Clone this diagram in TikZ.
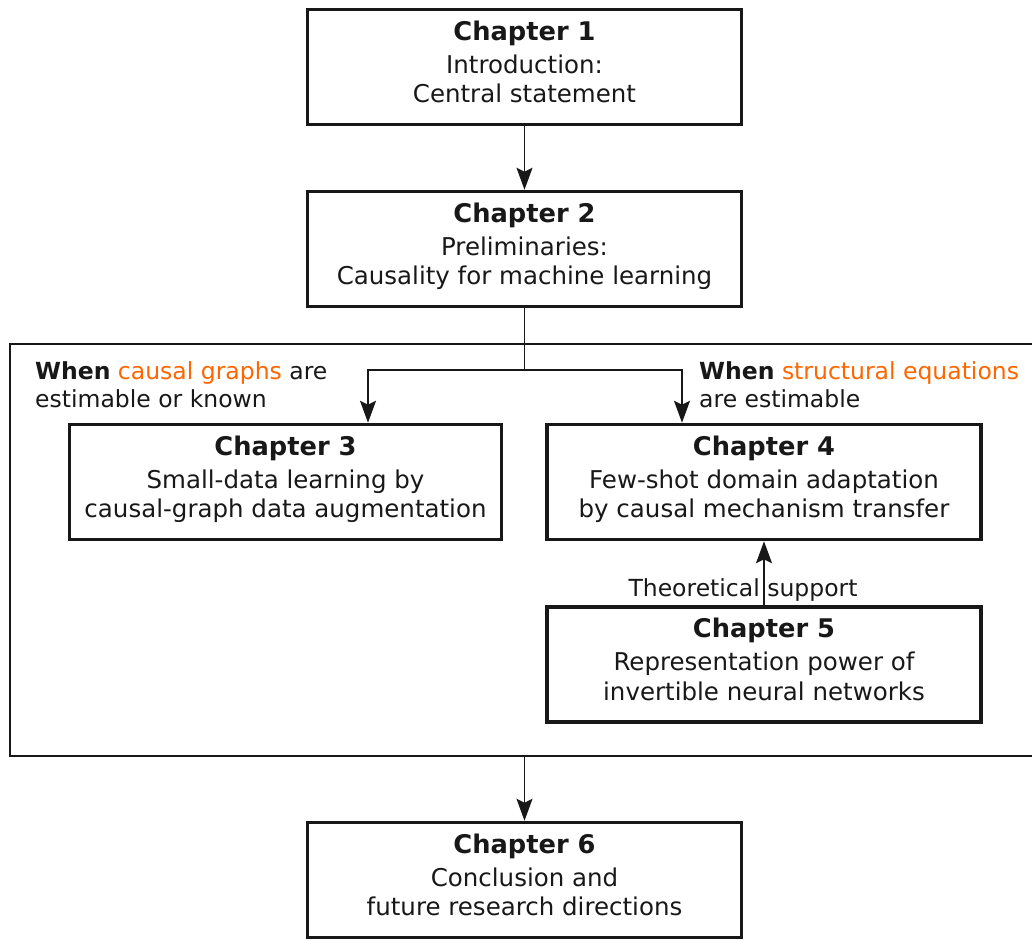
\documentclass[tikz,border=0pt]{standalone}
\usepackage{fontspec}
\setmainfont{DejaVu Sans}
\usetikzlibrary{arrows.meta}
\definecolor{ink}{RGB}{24,24,24}
\definecolor{accent}{RGB}{255,102,0}
\newcommand{\bodyfont}{\fontsize{24.5}{29.5}\selectfont}
\newcommand{\headfont}{\fontsize{25.7}{29.5}\selectfont\bfseries}
\newcommand{\notefont}{\fontsize{23.5}{28}\selectfont}
\newcommand{\chap}[3]{{\headfont Chapter #1}\\[3.5pt]#2\\#3\vphantom{g}}
\begin{document}
\begin{tikzpicture}[x=1pt,y=-1pt,
  chapbox/.style={draw=ink, line width=3.5pt, inner sep=0pt,
    minimum width=434pt, minimum height=115pt},
  chaptext/.style={text=ink, inner sep=0pt, align=center, font=\bodyfont, yshift=2.6pt},
  groupbox/.style={draw=ink, line width=2pt, inner sep=0pt},
  note/.style={text=ink, inner sep=0pt, font=\notefont},
  link/.style={draw=ink, line width=1.7pt},
  arr/.style={link, -{Stealth[length=22pt,width=16pt,inset=4pt]}}]
\useasboundingbox (0,0) rectangle (1032,941);

% outer group frame around chapters 3--5 (right edge runs past the page)
\node[groupbox, minimum width=1024pt, minimum height=412pt] (grp) at (522,550) {};

% chapter boxes
\node[chapbox, label={[chaptext]center:{\chap{1}{Introduction:}{Central statement}}}]
  (b1) at (524.5,67) {};
\node[chapbox, label={[chaptext]center:{\chap{2}{Preliminaries:}{Causality for machine learning}}}]
  (b2) at (524.5,249) {};
\node[chapbox, minimum width=432pt, label={[chaptext]center:{\chap{3}{Small-data learning by}{causal-graph data augmentation}}}]
  (b3) at (285.5,482) {};
\node[chapbox, label={[chaptext]center:{\chap{4}{Few-shot domain adaptation}{by causal mechanism transfer}}}]
  (b4) at (764,482) {};
\node[chapbox, label={[chaptext]center:{\chap{5}{Representation power of}{invertible neural networks}}}]
  (b5) at (764,664.5) {};
\node[chapbox, label={[chaptext]center:{\chap{6}{Conclusion and}{future research directions}}}]
  (b6) at (524.5,880) {};

% condition labels
\node[note, anchor=north west, align=left] (c3) at (35,361.5)
  {\textbf{When} \textcolor{accent}{causal graphs} are\\estimable or known};
\node[note, anchor=north west, align=left] (c4) at (699,361.5)
  {\textbf{When} \textcolor{accent}{structural equations}\\are estimable};

% branch points
\coordinate (split) at (b2.south |- 0,370);
\coordinate (l3) at (368,370);
\coordinate (l4) at (682,370);

% connectors
\draw[arr] (b1.south) -- (b2.north);
\draw[link] (b2.south) -- (split);
\draw[arr] (split) -- (l3) -- (l3 |- b3.north);
\draw[arr] (split) -- (l4) -- (l4 |- b4.north);
\draw[arr] (b5.north) -- (b4.south);
\node[note, anchor=base] (sup) at (743,596) {Theoretical support};
\draw[arr] (b6.north |- grp.south) -- (b6.north);
\end{tikzpicture}
\end{document}
